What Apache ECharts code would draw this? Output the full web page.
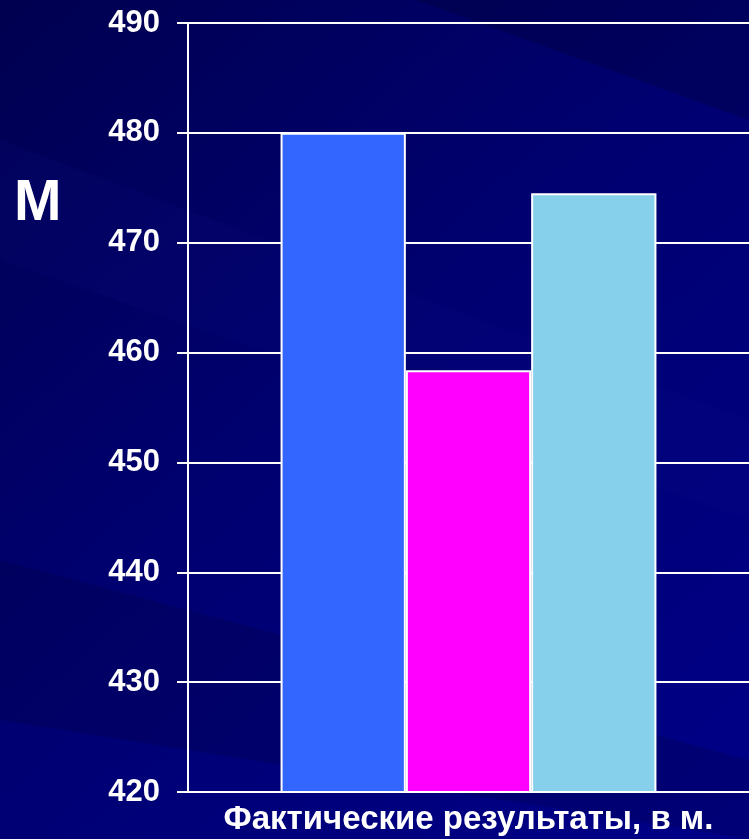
<!DOCTYPE html>
<html>
<head>
<meta charset="utf-8">
<script src="https://cdn.jsdelivr.net/npm/echarts@6/dist/echarts.min.js"></script>
<style>
html,body{margin:0;padding:0;background:#000070;}
#chart{width:749px;height:839px;}
</style>
</head>
<body>
<div id="chart"></div>
<script>
var categories = ['Фактические результаты, в м.'];
var seriesNames = ['Серия 1', 'Серия 2', 'Серия 3'];
var seriesValues = [[480], [458.4], [474.5]];
var seriesColors = ['#3366FF', '#FF00FF', '#87D0EB'];
var yTicks = { min: 420, max: 490, interval: 10 };
var yName = 'М';

var chart = echarts.init(document.getElementById('chart'), null, {renderer: 'canvas'});
var series = seriesNames.map(function (n, i) {
  return {
    name: n,
    type: 'bar',
    data: seriesValues[i],
    barGap: '0%',
    barCategoryGap: '33%',
    itemStyle: { color: seriesColors[i], borderColor: '#FFFFFF', borderWidth: 2 },
    z: 3
  };
});
chart.setOption({
  animation: false,
  backgroundColor: {
    type: 'linear', x: 0, y: 0, x2: 1, y2: 1,
    colorStops: [
      { offset: 0, color: '#000050' },
      { offset: 0.45, color: '#000070' },
      { offset: 1, color: '#000088' }
    ]
  },
  graphic: [
    { type: 'polygon', z: -10, silent: true, shape: { points: [[0,0],[749,0],[749,120],[0,-150]] }, style: { fill: 'rgba(0,0,40,0.25)' } },
    { type: 'polygon', z: -10, silent: true, shape: { points: [[0,140],[749,420],[749,520],[0,260]] }, style: { fill: 'rgba(20,20,140,0.12)' } },
    { type: 'polygon', z: -10, silent: true, shape: { points: [[0,560],[749,760],[749,839],[0,720]] }, style: { fill: 'rgba(0,0,50,0.2)' } },
    { type: 'text', left: 14, top: 176, style: { text: yName, fill: '#FFFFFF', font: 'bold 57px "Liberation Sans", Arial, sans-serif' } }
  ],
  grid: { left: 188, right: 0, top: 23, bottom: 47, containLabel: false },
  legend: { show: false },
  xAxis: {
    type: 'category',
    data: categories,
    axisLine: { show: true, lineStyle: { color: '#FFFFFF', width: 2 } },
    axisTick: { show: false },
    axisLabel: { color: '#FFFFFF', fontWeight: 'bold', fontSize: 33, fontFamily: '"Liberation Sans", Arial, sans-serif', margin: 11 }
  },
  yAxis: {
    type: 'value',
    min: yTicks.min, max: yTicks.max, interval: yTicks.interval,
    axisLine: { show: true, lineStyle: { color: '#FFFFFF', width: 2 } },
    axisTick: { show: true, length: 11, lineStyle: { color: '#FFFFFF', width: 2 } },
    splitLine: { show: true, lineStyle: { color: '#FFFFFF', width: 2 } },
    axisLabel: { color: '#FFFFFF', fontWeight: 'bold', fontSize: 31, fontFamily: '"Liberation Sans", Arial, sans-serif', margin: 28, padding: [3, 0, 0, 0] }
  },
  series: series
});
</script>
</body>
</html>
